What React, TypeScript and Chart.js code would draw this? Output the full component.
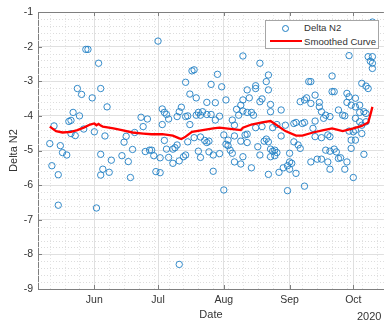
import React, { useEffect, useRef } from 'react';
import { Chart, registerables } from 'chart.js';

Chart.register(...registerables);

const year = 2020;

// Scatter observations ("Delta N2"), date as MM-DD
const pointDates = [
  '05-11','05-12','05-13','05-15','05-15','05-16','05-17','05-19','05-20','05-21','05-21','05-22','05-23','05-24','05-25','05-26','05-27','05-28','05-29','05-31',
  '06-01','06-02','06-03','06-04','06-04','06-04','06-05','06-06','06-07','06-08','06-09','06-14','06-15','06-16','06-17','06-18','06-19','06-20','06-23','06-24',
  '06-25','06-26','06-27','06-28','06-29','06-30',
  '07-01','07-02','07-02','07-03','07-03','07-04','07-04','07-05','07-05','07-06','07-06','07-08','07-08','07-09','07-10','07-10','07-11','07-11','07-11','07-12',
  '07-13','07-14','07-14','07-14','07-15','07-15','07-16','07-16','07-17','07-18','07-18','07-19','07-19','07-20','07-20','07-21','07-21','07-21','07-22','07-23',
  '07-24','07-24','07-24','07-25','07-25','07-26','07-26','07-27','07-27','07-28','07-28','07-29','07-30','07-30','07-31',
  '08-01','08-01','08-02','08-02','08-03','08-03','08-04','08-05','08-05','08-06','08-06','08-06','08-07','08-08','08-09','08-09','08-09','08-10','08-10','08-10',
  '08-10','08-11','08-12','08-12','08-12','08-12','08-13','08-14','08-14','08-15','08-16','08-16','08-16','08-17','08-18','08-18','08-18','08-19','08-19','08-20',
  '08-21','08-21','08-22','08-22','08-22','08-22','08-23','08-23','08-23','08-23','08-24','08-24','08-25','08-25','08-26','08-26','08-27','08-28','08-28','08-29',
  '08-30','08-31','08-31',
  '09-01','09-01','09-01','09-02','09-03','09-03','09-04','09-04','09-05','09-06','09-06','09-07','09-08','09-08','09-08','09-09','09-10','09-11','09-11','09-11',
  '09-12','09-13','09-13','09-13','09-14','09-15','09-15','09-16','09-16','09-16','09-17','09-18','09-18','09-19','09-19','09-20','09-20','09-20','09-20','09-21',
  '09-21','09-22','09-22','09-23','09-24','09-24','09-25','09-26','09-27','09-27','09-28','09-28','09-28','09-29','09-29','09-29','09-30','09-30','09-30',
  '10-01','10-01','10-02','10-02','10-02','10-02','10-02','10-04','10-04','10-04','10-05','10-05','10-05','10-06','10-06','10-07','10-07','10-07','10-08','10-08',
  '10-09','10-10','10-10','10-10','10-10'
];

const pointValues = [
  -4.80,-5.44,-4.29,-5.70,-6.58,-4.86,-5.06,-5.13,-4.16,-4.13,-4.51,-3.90,-4.57,-3.21,-4.00,-3.38,-4.38,-2.08,-2.08,-3.48,
  -4.46,-6.66,-2.48,-3.21,-5.11,-5.71,-5.54,-4.58,-3.74,-5.63,-5.28,-5.15,-4.76,-4.59,-5.32,-5.78,-4.97,-4.48,-4.04,-4.31,
  -5.03,-4.09,-4.99,-4.99,-5.15,-5.61,
  -1.84,-5.21,-5.64,-3.80,-4.25,-3.90,-4.71,-3.96,-4.96,-4.09,-5.20,-5.37,-4.96,-4.92,-4.84,-4.02,-5.30,-3.88,-8.29,-3.75,
  -5.18,-5.13,-4.02,-3.03,-4.00,-4.75,-4.25,-3.37,-2.70,-2.67,-4.63,-3.48,-3.98,-3.90,-5.02,-3.98,-4.61,-5.20,-3.88,-4.71,
  -3.96,-3.61,-4.77,-4.73,-5.04,-3.09,-3.96,-5.13,-5.60,-3.62,-4.12,-2.80,-4.01,-5.09,-3.16,
  -6.14,-4.55,-3.54,-4.82,-4.86,-4.70,-4.99,-5.08,-4.12,-5.33,-4.27,-4.58,-3.81,-3.98,-3.69,-4.73,-5.39,-3.54,-3.86,-2.27,
  -5.18,-4.55,-3.25,-3.90,-4.53,-4.77,-3.48,-3.90,-5.50,-3.98,-3.13,-3.21,-4.34,-4.89,-3.59,-2.48,-5.13,-3.51,-4.31,-4.73,
  -3.01,-4.67,-2.82,-3.25,-5.69,-4.75,-4.96,-5.18,-3.67,-3.88,-4.34,-5.02,-5.15,-4.99,-4.25,-5.06,-5.63,-3.83,-4.58,-5.50,
  -4.27,-5.44,-6.16,
  -5.54,-5.33,-5.08,-5.37,-4.22,-4.75,-5.66,-4.19,-4.84,-4.94,-3.59,-4.22,-4.19,-6.03,-3.54,-3.48,-3.01,-3.64,-3.01,-5.33,
  -4.36,-3.40,-4.15,-4.60,-5.25,-3.61,-3.74,-3.88,-4.63,-5.25,-4.07,-3.98,-4.99,-4.55,-5.33,-4.60,-5.54,-5.02,-4.02,-3.30,
  -2.85,-3.30,-4.96,-5.04,-5.23,-3.83,-5.21,-3.98,-4.00,-5.54,-3.35,-3.61,-5.33,-3.45,-2.26,-4.44,-3.69,-4.70,-4.94,
  -4.46,-5.78,-3.49,-3.74,-4.07,-4.41,-4.70,-3.69,-3.90,-4.17,-4.27,-4.51,-3.06,-3.88,-5.11,-3.93,-4.17,-3.14,-2.29,-3.21,
  -2.42,-2.29,-2.48,-2.63,-1.29
];

// Smoothed curve
const smoothDates = [
  '05-11','05-14','05-17','05-21','05-24','05-27','05-30','06-01','06-02','06-03','06-04','06-05','06-10','06-14','06-19','06-24','06-28',
  '07-03','07-08','07-11','07-12','07-14','07-17','07-22','07-27','07-30','08-05','08-09','08-10','08-14','08-19','08-23','08-26','08-30',
  '09-04','09-07','09-12','09-17','09-21','09-26','10-01','10-05','10-08','10-09','10-10'
];
const smoothValues = [
  -4.31,-4.44,-4.48,-4.46,-4.41,-4.34,-4.25,-4.22,-4.27,-4.23,-4.28,-4.31,-4.36,-4.41,-4.48,-4.51,-4.53,
  -4.53,-4.57,-4.65,-4.67,-4.60,-4.46,-4.41,-4.36,-4.34,-4.38,-4.41,-4.34,-4.25,-4.19,-4.15,-4.27,-4.44,
  -4.57,-4.57,-4.48,-4.41,-4.36,-4.44,-4.36,-4.29,-4.19,-3.98,-3.74
];

const monthTickDates = ['06-01', '07-01', '08-01', '09-01', '10-01'];
const monthLabels = ['Jun', 'Jul', 'Aug', 'Sep', 'Oct'];
const yTickValues = [-9, -8, -7, -6, -5, -4, -3, -2, -1];
const xRangeStart = '2020-05-05T11:00:00Z';
const xRangeEnd = '2020-10-15T10:00:00Z';

const DAY = 86400000;
const ORIGIN = Date.UTC(year, 4, 1);
const toDay = (s: string) =>
  (Date.parse(s.length === 5 ? `${year}-${s}T00:00:00Z` : s) - ORIGIN) / DAY;

const FONT = "'Liberation Sans', Arial, Helvetica, sans-serif";
const TEXT = '#333333';
const AXIS = '#7f7f7f';

const decorPlugin = {
  id: 'decor',
  beforeDatasetsDraw(chart: any) {
    const { ctx, chartArea, scales } = chart;
    const { left, right, top, bottom } = chartArea;
    ctx.save();
    ctx.strokeStyle = '#dcdcdc';
    ctx.lineWidth = 1;
    ctx.setLineDash([1, 2]);
    // y minor grid (every 0.2)
    for (let k = -45; k <= -5; k++) {
      if (k % 5 === 0) continue;
      const py = Math.round(scales.y.getPixelForValue(k / 5)) + 0.5;
      ctx.beginPath();
      ctx.moveTo(left, py);
      ctx.lineTo(right, py);
      ctx.stroke();
    }
    // x minor grid (weekly)
    ctx.strokeStyle = '#e4e4e4';
    const majors = monthTickDates.map(toDay);
    for (let d = toDay('05-04'); d <= scales.x.max; d += 7) {
      if (d < scales.x.min) continue;
      if (majors.some((m) => Math.abs(m - d) < 2)) continue;
      const px = Math.round(scales.x.getPixelForValue(d)) + 0.5;
      ctx.beginPath();
      ctx.moveTo(px, top);
      ctx.lineTo(px, bottom);
      ctx.stroke();
    }
    ctx.restore();
  },
  afterDraw(chart: any) {
    const { ctx, chartArea, scales } = chart;
    const { left, right, top, bottom } = chartArea;
    ctx.save();
    ctx.strokeStyle = AXIS;
    ctx.lineWidth = 1;
    ctx.beginPath();
    ctx.moveTo(left, top + 0.5);
    ctx.lineTo(right, top + 0.5);
    ctx.stroke();
    // inward tick marks
    const tl = 4;
    monthTickDates.forEach((d) => {
      const px = Math.round(scales.x.getPixelForValue(toDay(d))) + 0.5;
      ctx.beginPath();
      ctx.moveTo(px, bottom);
      ctx.lineTo(px, bottom - tl);
      ctx.moveTo(px, top);
      ctx.lineTo(px, top + tl);
      ctx.stroke();
    });
    yTickValues.forEach((v) => {
      const py = Math.round(scales.y.getPixelForValue(v)) + 0.5;
      ctx.beginPath();
      ctx.moveTo(left, py);
      ctx.lineTo(left + tl, py);
      ctx.stroke();
    });
    ctx.restore();
  },
};

export default function App() {
  const canvasRef = useRef<HTMLCanvasElement | null>(null);

  useEffect(() => {
    document.body.style.margin = '0';
    const canvas = canvasRef.current;
    if (!canvas) return;
    const scatterData = pointDates.map((d, i) => ({ x: toDay(d), y: pointValues[i] }));
    const smoothData = smoothDates.map((d, i) => ({ x: toDay(d), y: smoothValues[i] }));
    const monthTickValues = monthTickDates.map(toDay);

    const chart = new Chart(canvas, {
      type: 'scatter',
      data: {
        datasets: [
          {
            type: 'scatter',
            label: 'Delta N2',
            data: scatterData,
            pointRadius: 3.2,
            pointHoverRadius: 3.2,
            borderWidth: 0.9,
            borderColor: '#1f7fc4',
            backgroundColor: 'rgba(0,0,0,0)',
            order: 2,
          } as any,
          {
            type: 'line',
            label: 'Smoothed Curve',
            data: smoothData,
            borderColor: '#ff0000',
            borderWidth: 2.3,
            pointRadius: 0,
            tension: 0,
            fill: false,
            order: 1,
          } as any,
        ],
      },
      options: {
        animation: false,
        responsive: true,
        maintainAspectRatio: false,
        layout: { padding: { top: 12, right: 0, bottom: 0, left: 0 } },
        plugins: { legend: { display: false }, tooltip: { enabled: false } },
        scales: {
          x: {
            type: 'linear',
            min: toDay(xRangeStart),
            max: toDay(xRangeEnd),
            afterBuildTicks: (s: any) => {
              s.ticks = monthTickValues.map((v) => ({ value: v }));
            },
            afterFit: (s: any) => {
              s.height = 33;
            },
            ticks: {
              autoSkip: false,
              maxRotation: 0,
              padding: 5,
              color: TEXT,
              font: { family: FONT, size: 10.5 },
              callback: (v: any) => {
                const i = monthTickValues.findIndex((m) => Math.abs(m - Number(v)) < 1e-6);
                return i >= 0 ? monthLabels[i] : '';
              },
            },
            grid: { color: '#e0e0e0', lineWidth: 1, drawTicks: false },
            border: { display: true, color: AXIS, width: 1 },
            title: {
              display: true,
              text: 'Date',
              color: TEXT,
              font: { family: FONT, size: 11 },
              padding: { top: 0, bottom: 0 },
            },
          },
          y: {
            type: 'linear',
            min: -9,
            max: -1,
            afterBuildTicks: (s: any) => {
              s.ticks = yTickValues.map((v) => ({ value: v }));
            },
            afterFit: (s: any) => {
              s.width = 38;
            },
            ticks: {
              padding: 5,
              color: TEXT,
              font: { family: FONT, size: 10.5 },
              callback: (v: any) => String(v),
            },
            grid: { color: '#e0e0e0', lineWidth: 1, drawTicks: false },
            border: { display: true, color: AXIS, width: 1 },
            title: {
              display: true,
              text: 'Delta N2',
              color: TEXT,
              font: { family: FONT, size: 11 },
              padding: { top: 7, bottom: 0 },
            },
          },
        },
      },
      plugins: [decorPlugin],
    });
    return () => chart.destroy();
  }, []);

  const legendText: React.CSSProperties = {
    position: 'absolute',
    left: 38,
    fontFamily: FONT,
    fontSize: 9.6,
    lineHeight: '12px',
    color: TEXT,
    whiteSpace: 'nowrap',
  };

  return (
    <div style={{ position: 'absolute', left: 0, top: 0, width: 388, height: 322, background: '#ffffff' }}>
      <canvas ref={canvasRef} />
      <div
        style={{
          position: 'absolute',
          left: 265,
          top: 20,
          width: 114,
          height: 29,
          boxSizing: 'border-box',
          border: '1px solid #a6a6a6',
          background: '#ffffff',
        }}
      >
        <div
          style={{
            position: 'absolute',
            left: 15.5,
            top: 3.5,
            width: 7,
            height: 7,
            boxSizing: 'border-box',
            border: '1px solid #1f7fc4',
            borderRadius: '50%',
          }}
        />
        <div style={{ ...legendText, top: 1 }}>Delta N2</div>
        <div
          style={{
            position: 'absolute',
            left: 4,
            top: 19,
            width: 32,
            height: 2.4,
            background: '#ff0000',
          }}
        />
        <div style={{ ...legendText, top: 14.5 }}>Smoothed Curve</div>
      </div>
      <div
        style={{
          position: 'absolute',
          left: 357,
          top: 309,
          fontFamily: FONT,
          fontSize: 11,
          lineHeight: '14px',
          color: TEXT,
        }}
      >
        2020
      </div>
    </div>
  );
}
